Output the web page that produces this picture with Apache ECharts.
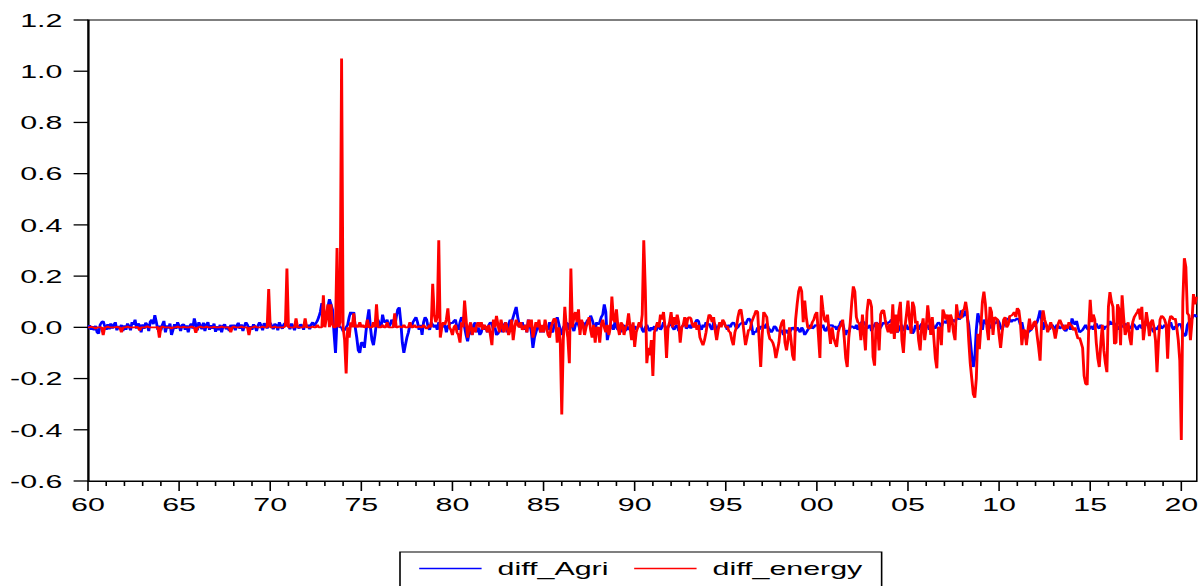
<!DOCTYPE html>
<html>
<head>
<meta charset="utf-8">
<title>diff_Agri / diff_energy</title>
<script src="https://cdn.jsdelivr.net/npm/echarts@6/dist/echarts.min.js"></script>
<style>
  html, body { margin: 0; padding: 0; background: #fff; overflow: hidden; }
  /* the original graph is a ~752px wide EViews chart stretched 1.6x sideways */
  #chart { width: 752px; height: 586px; transform: scaleX(1.6); transform-origin: 0 0; }
</style>
</head>
<body>
<div id="chart"></div>
<script>
// monthly observations, Jan 1960 .. Nov 2020 (one row per year)
const startYear = 1960;
const endYear = 2020.85;

const agri = [
  -.005,.008,-.01,.004,-.012,.006,-.02,-.025,.01,.02,.024,.005,      // 1960
  -.01,.012,-.008,.015,-.005,.01,.02,-.012,.005,-.006,.01,-.015,     // 1961
  .008,-.01,.015,.005,-.012,.02,.01,.03,-.005,.015,.008,-.02,        // 1962
  .012,-.006,.018,.01,-.015,.022,.03,.012,.048,.02,-.01,.006,        // 1963
  -.012,.01,.025,-.02,.008,-.005,.015,-.03,-.01,.012,-.006,.02,      // 1964
  .005,-.015,.01,.012,-.01,.008,-.02,.006,.015,-.005,.035,.01,       // 1965
  -.012,.02,.006,-.008,.018,-.015,.012,.02,-.01,.008,-.006,.015,     // 1966
  -.018,.005,-.012,.01,-.02,.006,.012,-.008,.004,-.015,.01,-.005,    // 1967
  .01,-.012,.008,.018,-.006,.012,-.015,.005,.02,.01,-.008,.004,      // 1968
  -.01,.012,.004,-.015,.008,.02,.006,-.012,.016,.01,-.005,.012,      // 1969
  .018,.006,-.008,.014,.01,-.012,.02,.005,-.006,.012,.018,.004,      // 1970
  .01,-.008,.015,.005,-.012,.01,.006,-.005,.012,.008,-.01,.015,      // 1971
  .005,.01,-.008,.012,.02,.006,.015,.025,.04,.06,.095,.05,           // 1972
  .03,.05,.08,.11,.09,.07,-.02,-.1,.03,.01,0,0,                      // 1973
  -.015,-.01,0,.01,.04,.06,.05,.06,0,-.04,-.09,-.1,                  // 1974
  -.06,-.06,-.08,-.02,.03,.07,0,-.05,-.07,-.03,.02,.03,              // 1975
  .01,0,.05,.02,.02,.03,0,.01,.03,.02,0,.04,                         // 1976
  .07,.078,.02,-.06,-.1,-.07,-.04,-.02,.01,0,.02,.03,                // 1977
  .04,.02,-.01,.01,-.03,.02,.04,.03,0,-.01,.02,.01,                  // 1978
  0,.01,-.01,.02,0,.015,0,.01,-.02,.005,.01,.02,                     // 1979
  .015,.025,.03,0,-.01,.02,.04,.03,0,-.03,-.055,-.02,                // 1980
  -.01,-.03,.01,.02,-.02,0,-.03,-.02,.01,-.01,.005,-.02,             // 1981
  .01,.02,.015,-.01,0,-.03,-.025,-.01,.01,-.02,.01,.02,              // 1982
  -.02,.01,.03,.02,.04,.06,.08,.04,.01,0,.02,-.01,                   // 1983
  .01,-.02,.03,.01,-.02,-.08,-.04,-.02,0,.01,-.02,.005,              // 1984
  -.02,.01,0,-.01,.02,-.015,-.02,.01,.02,.04,.015,-.01,              // 1985
  -.03,0,.01,.02,-.01,.015,.02,0,-.015,.01,.02,.01,                  // 1986
  -.01,.01,.02,0,.015,.03,.02,.046,.03,.01,-.01,.02,                 // 1987
  .01,.02,.04,.05,.09,.06,-.05,-.02,0,.01,-.01,.02,                  // 1988
  0,-.01,.01,-.02,0,.01,-.015,.005,-.01,0,.01,-.01,                  // 1989
  .005,-.01,0,.01,.015,-.01,-.02,0,.01,-.005,-.015,0,                // 1990
  -.01,.005,-.015,0,.01,-.01,0,.02,.005,-.01,0,.01,                  // 1991
  .015,0,-.01,.005,.01,-.015,-.01,0,.01,.02,-.005,0,                 // 1992
  .01,-.005,.015,0,.02,.03,.025,0,-.01,.01,0,.02,                    // 1993
  .01,.015,0,-.01,.02,.01,-.02,0,.015,.01,.02,.015,                  // 1994
  .005,-.01,.01,0,.015,.02,.01,-.005,0,.01,.015,.02,                 // 1995
  .02,.01,.025,.035,.03,.01,-.03,-.015,-.02,0,-.01,.005,             // 1996
  0,.01,-.005,.015,0,-.01,-.02,-.01,.005,0,-.015,-.01,               // 1997
  -.02,-.01,-.03,-.015,-.01,-.025,-.02,-.01,0,-.005,-.015,0,         // 1998
  -.01,-.02,0,-.01,-.03,-.02,-.01,0,.01,-.005,0,.01,                 // 1999
  .005,.01,-.005,0,.01,-.01,-.015,0,.01,.005,.01,0,                  // 2000
  .005,-.01,0,.01,.025,.015,-.01,-.03,-.01,-.02,0,.005,              // 2001
  0,-.005,.01,-.01,0,.015,.025,.02,.01,-.005,0,.01,                  // 2002
  -.015,0,.01,.02,.015,-.01,0,.01,.02,.015,.01,.02,                  // 2003
  .02,.03,.025,.01,-.01,-.02,-.01,.005,.01,-.015,0,.01,              // 2004
  -.01,0,.005,-.025,-.015,.01,0,-.01,.005,.015,-.01,-.005,           // 2005
  0,.01,-.01,.005,.015,0,-.005,.01,.02,.015,0,.02,                   // 2006
  .025,.015,.03,.02,.01,.025,.03,.02,.035,.04,.03,.066,              // 2007
  .04,.05,.066,.04,.01,-.05,-.11,-.155,-.12,-.01,.055,.03,           // 2008
  .01,-.01,.03,.02,.01,.025,-.005,.01,0,.02,.015,.03,                // 2009
  .02,0,-.01,.01,.02,.03,.035,.03,.02,.03,.025,.03,                  // 2010
  .035,.03,.01,.02,-.01,-.03,-.05,-.02,-.015,-.01,0,.005,            // 2011
  .01,.02,.04,.066,.03,-.01,.02,.01,0,-.01,.005,.01,                 // 2012
  0,-.01,.01,.005,-.005,0,.01,-.01,-.015,0,.005,-.01,                // 2013
  .035,.02,.01,.025,0,-.02,-.015,-.01,0,.01,-.005,-.01,              // 2014
  0,.005,-.01,.01,.015,0,-.005,.01,0,-.01,.005,0,                    // 2015
  .01,.025,.01,.02,.015,0,-.01,.005,0,.01,0,.015,                    // 2016
  .01,.005,-.005,0,.015,.01,0,-.01,.005,.01,-.005,0,                 // 2017
  .01,.02,.005,.015,0,-.01,-.02,0,-.01,.005,.01,-.005,               // 2018
  0,.01,.005,-.015,.01,.02,0,-.01,.005,0,.01,.015,                   // 2019
  .005,-.02,-.035,-.03,.01,.02,.03,.035,.045,.05,.04                 // 2020
];

const energy = [
  0,0,.003,0,0,-.006,0,0,0,0,-.03,0,                                 // 1960
  0,.003,0,0,0,0,0,.002,0,0,-.02,0,                                  // 1961
  0,0,.004,0,0,0,0,0,.002,0,-.012,0,                                 // 1962
  0,0,0,.005,0,0,0,0,0,0,.002,-.04,                                  // 1963
  0,.003,0,0,0,0,0,-.006,0,0,0,.004,                                 // 1964
  0,0,0,.002,0,0,0,0,.004,0,0,-.022,                                 // 1965
  0,0,.004,0,0,0,.003,0,0,0,0,.002,                                  // 1966
  0,0,0,0,.004,0,0,0,0,0,-.02,0,                                     // 1967
  .003,0,0,0,0,.004,0,0,0,0,-.03,0,                                  // 1968
  0,0,.005,0,0,0,0,.003,0,0,0,.15,                                   // 1969
  0,0,0,.004,0,0,0,0,0,0,.005,.23,                                   // 1970
  0,0,0,0,0,.035,0,0,0,0,0,.035,                                     // 1971
  0,0,0,0,.004,0,0,.01,0,0,0,.125,                                   // 1972
  0,.04,.09,0,.09,.01,0,0,.31,0,.02,1.05,                            // 1973
  0,-.05,-.18,0,-.04,.02,0,.055,0,.01,0,.02,                         // 1974
  0,.01,0,0,.03,0,0,0,.02,0,.09,0,                                   // 1975
  0,0,.01,0,0,.02,0,0,0,0,.055,0,                                    // 1976
  0,.005,0,0,.01,0,0,0,.02,0,0,.01,                                  // 1977
  0,0,.005,0,0,.01,0,-.005,0,.01,0,.17,                              // 1978
  .05,.02,.04,.34,-.04,0,.02,.01,.03,.074,0,-.01,                    // 1979
  -.03,0,.01,-.02,-.03,-.06,.02,0,.105,.03,-.04,0,                   // 1980
  .02,-.03,0,-.02,.01,.02,0,.02,-.01,.01,0,-.02,                     // 1981
  .01,-.03,-.07,.03,0,.045,.01,-.02,.03,0,-.02,.02,                  // 1982
  0,-.03,-.01,.03,-.05,0,.03,.01,0,.02,-.01,0,                       // 1983
  .01,-.02,.03,0,.03,-.04,-.01,.02,0,.03,-.02,.01,                   // 1984
  -.02,.03,0,-.03,-.04,0,.02,.035,.03,-.06,0,-.05,                   // 1985
  -.34,-.05,.08,0,-.04,-.14,.23,0,.04,.06,.02,.07,                   // 1986
  -.03,.03,.01,-.03,0,.02,.04,-.01,-.04,.01,-.06,0,                  // 1987
  0,-.06,.01,.03,0,-.02,.01,-.03,0,.12,.03,.02,                      // 1988
  .07,0,-.03,.02,.01,-.03,0,.01,.055,0,-.05,.02,                     // 1989
  -.077,-.02,0,.02,0,.05,.34,.15,-.14,-.08,-.11,-.05,                // 1990
  -.19,-.02,0,.02,0,.05,.03,.06,0,-.12,0,.02,                        // 1991
  .06,0,.04,.01,.05,.02,-.06,0,.01,.04,0,.035,                       // 1992
  .04,.035,.01,0,.02,-.01,.01,-.04,-.055,-.07,-.05,-.02,             // 1993
  .02,.05,.045,.02,.04,-.01,-.05,-.01,.02,0,.03,.02,                 // 1994
  0,.005,-.015,-.02,-.05,-.07,-.02,0,.04,.066,.07,.03,               // 1995
  -.02,-.07,-.04,-.01,-.01,.02,.035,.05,.066,.06,-.05,-.155,         // 1996
  -.03,.06,.05,.04,-.02,-.045,-.05,-.06,-.08,-.12,-.09,-.06,         // 1997
  0,.02,.03,-.06,-.09,-.05,0,-.05,-.11,-.13,.03,.09,                 // 1998
  .14,.16,.14,.02,.105,.04,0,-.005,0,.02,.03,.05,                    // 1999
  .06,-.03,-.12,.125,.07,.03,.02,.05,-.01,-.065,0,-.04,              // 2000
  -.06,-.077,-.02,0,.01,.03,-.04,-.12,-.155,-.04,.02,.1,             // 2001
  .16,.14,.04,.02,.015,-.05,.05,-.02,-.09,.06,.11,.105,              // 2002
  .08,-.115,-.15,.02,.01,-.09,.05,.066,.066,.03,0,-.02,              // 2003
  .015,-.025,.09,-.045,.05,-.02,.06,.1,-.05,-.1,0,.05,               // 2004
  .105,.03,-.025,.1,.08,.015,.025,-.05,-.09,0,.035,-.05,             // 2005
  0,.086,.03,-.03,.04,-.04,-.12,-.16,0,0,-.07,.07,                   // 2006
  .05,.03,.05,-.02,.05,.03,-.02,-.05,.09,.04,.04,.035,               // 2007
  .066,.07,.1,.06,-.05,-.14,-.2,-.26,-.275,-.2,-.025,-.085,          // 2008
  0,.1,.14,.09,0,-.05,.08,.06,-.03,.04,.035,.03,                     // 2009
  -.03,-.08,-.02,.03,.04,0,.01,.045,.045,.05,.06,.04,                // 2010
  .075,.066,.02,-.07,-.01,-.012,-.07,-.01,.034,-.01,0,.02,           // 2011
  .025,-.03,-.077,-.13,.02,.066,.03,.01,-.02,0,.02,0,                // 2012
  -.01,-.044,-.01,.015,.03,.015,0,-.01,.01,-.005,.02,.01,            // 2013
  .005,-.012,0,-.025,-.045,-.04,-.06,-.08,-.19,-.22,-.225,-.01,      // 2014
  .108,.02,.05,.03,-.06,-.12,-.155,-.06,.01,-.09,-.14,-.175,         // 2015
  .08,.138,.1,.08,-.065,-.06,.09,.07,-.07,.125,.04,-.03,             // 2016
  -.01,.02,-.04,-.07,.02,.04,.05,.06,.073,.03,.08,-.05,              // 2017
  0,.06,.02,-.035,.02,.03,0,-.05,-.175,-.05,.03,.045,                // 2018
  .04,.03,.01,-.123,.02,.045,.04,.03,.035,0,-.05,-.13,               // 2019
  -.44,.1,.27,.235,.055,.047,-.05,.02,.13,.09,.12                    // 2020
];

const xMajorStep = 5;   // labelled ticks: 60, 65, ... 20
const yMin = -0.6, yMax = 1.2, yStep = 0.2;

const toPoints = arr => arr.map((v, i) => [startYear + i / 12, v]);

const yearLabel = v => {
    const y = Math.round(v);
    if (Math.abs(v - y) > 1e-6 || y % xMajorStep !== 0) return '';
    return String(y % 100).padStart(2, '0');
};

// tick positions: one small tick per year, long ones every 5 years; y ticks every 0.2
const xTickYears = [];
for (let y = startYear; y <= 2020; y++) xTickYears.push(y);
const yTickValues = [];
for (let k = 0; k <= Math.round((yMax - yMin) / yStep); k++) yTickValues.push(+(yMin + k * yStep).toFixed(1));

const font = 'Liberation Sans, Arial, sans-serif';

// outward tick marks, placed through the axis scales
function xTickItem(params, api) {
    const year = api.value(0);
    const p = api.coord([year, yMin]);
    const len = year % xMajorStep === 0 ? 10 : 5;
    return { type: 'line', shape: { x1: p[0], y1: p[1], x2: p[0], y2: p[1] + len },
             style: { stroke: '#000', lineWidth: 1 } };
}
function yTickItem(params, api) {
    const p = api.coord([startYear, api.value(1)]);
    return { type: 'line', shape: { x1: p[0] - 9, y1: p[1], x2: p[0], y2: p[1] },
             style: { stroke: '#000', lineWidth: 1.3 } };
}

const chart = echarts.init(document.getElementById('chart'), null, { renderer: 'svg' });
chart.setOption({
    animation: false,
    backgroundColor: '#fff',
    textStyle: { fontFamily: font },
    grid: {
        left: 55, right: 4, top: 20, bottom: 105,
        show: true, borderColor: '#000', borderWidth: 1
    },
    legend: {
        left: 250, top: 552,
        padding: [7, 12, 9, 12],
        borderColor: '#000', borderWidth: 1,
        icon: 'rect', itemWidth: 39, itemHeight: 1.5, itemGap: 16,
        textStyle: { color: '#000', fontSize: 19, fontFamily: font, padding: [0, 0, 0, 5] },
        data: ['diff_Agri', 'diff_energy']
    },
    xAxis: {
        type: 'value', min: startYear, max: endYear, interval: xMajorStep,
        position: 'bottom',
        axisLine: { show: true, onZero: false, lineStyle: { color: '#000', width: 1 } },
        axisTick: { show: false },
        axisLabel: {
            formatter: yearLabel, showMaxLabel: false,
            color: '#000', fontSize: 19, margin: 14
        },
        splitLine: { show: false }
    },
    yAxis: {
        type: 'value', min: yMin, max: yMax, interval: yStep,
        axisLine: { show: true, onZero: false, lineStyle: { color: '#000', width: 1 } },
        axisTick: { show: false },
        axisLabel: {
            formatter: v => (Math.abs(v) < 1e-9 ? '0.0' : v.toFixed(1)),
            color: '#000', fontSize: 19, margin: 16, padding: [0, 0, 10, 0]
        },
        splitLine: { show: false }
    },
    series: [
        {
            name: 'diff_Agri', type: 'line', data: toPoints(agri),
            symbol: 'none', z: 2,
            lineStyle: { color: '#0000ff', width: 1.8 },
            itemStyle: { color: '#0000ff' }
        },
        {
            name: 'diff_energy', type: 'line', data: toPoints(energy),
            symbol: 'none', z: 3,
            lineStyle: { color: '#ff0000', width: 1.8 },
            itemStyle: { color: '#ff0000' }
        },
        {
            name: 'xTicks', type: 'custom', silent: true, clip: false, z: 5,
            data: xTickYears.map(y => [y, yMin]),
            renderItem: xTickItem
        },
        {
            name: 'yTicks', type: 'custom', silent: true, clip: false, z: 5,
            data: yTickValues.map(v => [startYear, v]),
            renderItem: yTickItem
        }
    ]
});
</script>
</body>
</html>
